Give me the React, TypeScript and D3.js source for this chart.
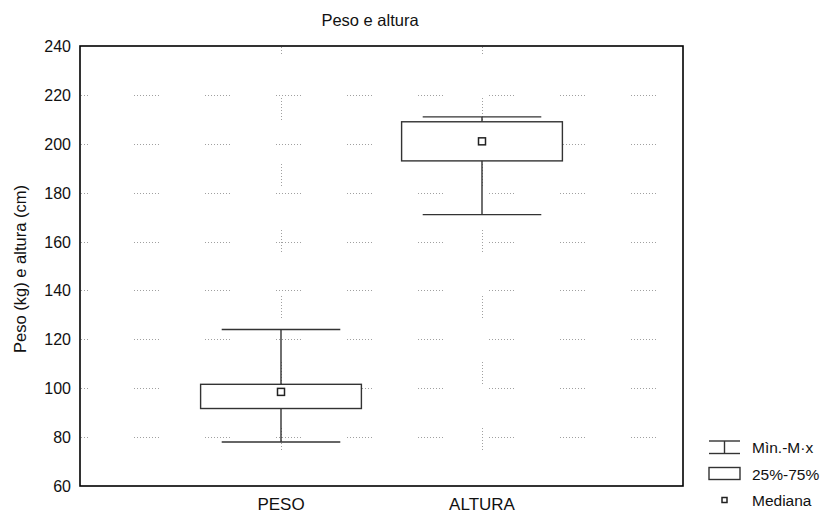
import { useEffect, useRef } from 'react'

import * as d3 from 'd3'

const categories = ['PESO', 'ALTURA']
const minValues = [78, 171]
const q1Values = [91.7, 193]
const medianValues = [98.5, 201]
const q3Values = [101.6, 209]
const maxValues = [124, 211]
const yTicks = [60, 80, 100, 120, 140, 160, 180, 200, 220, 240]
const legendLabels = ['Mìn.-M·x', '25%-75%', 'Mediana']

const width = 829
const height = 515
const margin = { top: 46, right: 146, bottom: 29, left: 80 }
const font = '"Liberation Sans", Arial, sans-serif'

// dotted dash pattern: n dots, then a long gap, repeating every `period` px
function dottedDash(n: number, period: number) {
  const parts: number[] = []
  for (let i = 0; i < n; i++) {
    parts.push(1, i === n - 1 ? period - n * 3 + 2 : 2)
  }
  return parts.join(' ')
}

export default function App() {
  const svgRef = useRef<SVGSVGElement>(null)

  useEffect(() => {
    if (!svgRef.current) return
    d3.select(svgRef.current).selectAll('*').remove()
    const svg = d3.select(svgRef.current)

    const x = d3
      .scaleLinear()
      .domain([0, categories.length + 1])
      .range([margin.left, width - margin.right])

    const y = d3
      .scaleLinear()
      .domain([60, 240])
      .range([height - margin.bottom, margin.top])

    const gridColor = '#a0a0a0'

    // horizontal grid
    svg
      .append('g')
      .selectAll('line')
      .data(yTicks.slice(1, -1))
      .join('line')
      .attr('x1', x(0))
      .attr('x2', x(categories.length + 1))
      .attr('y1', (d) => Math.round(y(d)) + 0.5)
      .attr('y2', (d) => Math.round(y(d)) + 0.5)
      .attr('stroke', gridColor)
      .attr('stroke-width', 1)
      .attr('stroke-dasharray', dottedDash(9, 71))
      .attr('stroke-dashoffset', 17)

    // vertical grid at categories
    svg
      .append('g')
      .selectAll('line')
      .data(categories)
      .join('line')
      .attr('x1', (_, i) => Math.round(x(i + 1)) + 0.5)
      .attr('x2', (_, i) => Math.round(x(i + 1)) + 0.5)
      .attr('y1', y(240))
      .attr('y2', y(60))
      .attr('stroke', gridColor)
      .attr('stroke-width', 1)
      .attr('stroke-dasharray', dottedDash(8, 66))
      .attr('stroke-dashoffset', 14)

    const boxColor = '#333'
    const boxHalf = 0.4
    const capHalf = 0.295

    const g = svg
      .append('g')
      .selectAll('g')
      .data(categories)
      .join('g')

    // whisker stem
    g.append('line')
      .attr('x1', (_, i) => x(i + 1))
      .attr('x2', (_, i) => x(i + 1))
      .attr('y1', (_, i) => y(minValues[i]))
      .attr('y2', (_, i) => y(maxValues[i]))
      .attr('stroke', boxColor)
      .attr('stroke-width', 1.4)

    // caps
    for (const vals of [minValues, maxValues]) {
      g.append('line')
        .attr('x1', (_, i) => x(i + 1 - capHalf))
        .attr('x2', (_, i) => x(i + 1 + capHalf))
        .attr('y1', (_, i) => y(vals[i]))
        .attr('y2', (_, i) => y(vals[i]))
        .attr('stroke', boxColor)
        .attr('stroke-width', 1.4)
    }

    // box
    g.append('rect')
      .attr('x', (_, i) => x(i + 1 - boxHalf))
      .attr('width', (_, i) => x(i + 1 + boxHalf) - x(i + 1 - boxHalf))
      .attr('y', (_, i) => y(q3Values[i]))
      .attr('height', (_, i) => y(q1Values[i]) - y(q3Values[i]))
      .attr('fill', 'white')
      .attr('stroke', boxColor)
      .attr('stroke-width', 1.4)

    // median marker
    g.append('rect')
      .attr('x', (_, i) => x(i + 1) - 3.5)
      .attr('y', (_, i) => y(medianValues[i]) - 3.5)
      .attr('width', 7)
      .attr('height', 7)
      .attr('fill', 'white')
      .attr('stroke', '#222')
      .attr('stroke-width', 1.5)

    // frame
    svg
      .append('rect')
      .attr('x', x(0))
      .attr('y', y(240))
      .attr('width', x(categories.length + 1) - x(0))
      .attr('height', y(60) - y(240))
      .attr('fill', 'none')
      .attr('stroke', '#000')
      .attr('stroke-width', 1.6)

    // y tick labels
    svg
      .append('g')
      .selectAll('text')
      .data(yTicks)
      .join('text')
      .attr('x', x(0) - 9)
      .attr('y', (d) => y(d) + 6)
      .attr('text-anchor', 'end')
      .attr('font-family', font)
      .attr('font-size', 16)
      .attr('fill', '#111')
      .text((d) => d)

    // x labels
    svg
      .append('g')
      .selectAll('text')
      .data(categories)
      .join('text')
      .attr('x', (_, i) => x(i + 1))
      .attr('y', 510)
      .attr('text-anchor', 'middle')
      .attr('font-family', font)
      .attr('font-size', 17)
      .attr('fill', '#111')
      .text((d) => d)

    // title
    svg
      .append('text')
      .attr('x', 370)
      .attr('y', 26)
      .attr('text-anchor', 'middle')
      .attr('font-family', font)
      .attr('font-size', 16.5)
      .attr('fill', '#111')
      .text('Peso e altura')

    // y axis label
    svg
      .append('text')
      .attr('transform', `translate(26,${(y(60) + y(240)) / 2 + 3}) rotate(-90)`)
      .attr('text-anchor', 'middle')
      .attr('font-family', font)
      .attr('font-size', 16.5)
      .attr('fill', '#111')
      .text('Peso (kg) e altura (cm)')

    // legend
    const lg = svg.append('g').attr('transform', 'translate(709,447)')
    const rowH = 26.5
    lg.append('line').attr('x1', 0).attr('x2', 31).attr('y1', -6).attr('y2', -6)
      .attr('stroke', boxColor).attr('stroke-width', 1.4)
    lg.append('line').attr('x1', 0).attr('x2', 31).attr('y1', 6.5).attr('y2', 6.5)
      .attr('stroke', boxColor).attr('stroke-width', 1.4)
    lg.append('line').attr('x1', 15.5).attr('x2', 15.5).attr('y1', -6).attr('y2', 6.5)
      .attr('stroke', boxColor).attr('stroke-width', 1.4)
    lg.append('rect').attr('x', 0).attr('y', rowH - 6).attr('width', 31).attr('height', 12)
      .attr('fill', 'white').attr('stroke', boxColor).attr('stroke-width', 1.4)
    lg.append('rect').attr('x', 13).attr('y', rowH * 2 - 2.5).attr('width', 5).attr('height', 5)
      .attr('fill', 'white').attr('stroke', '#222').attr('stroke-width', 1.5)

    lg.selectAll('text')
      .data(legendLabels)
      .join('text')
      .attr('x', 43)
      .attr('y', (_, i) => i * rowH + 6)
      .attr('font-family', font)
      .attr('font-size', 15.5)
      .attr('fill', '#111')
      .text((d) => d)
  }, [])

  return (
    <svg
      ref={svgRef}
      width={width}
      height={height}
      style={{ position: 'absolute', left: 0, top: 0, background: 'white' }}
    />
  )
}
